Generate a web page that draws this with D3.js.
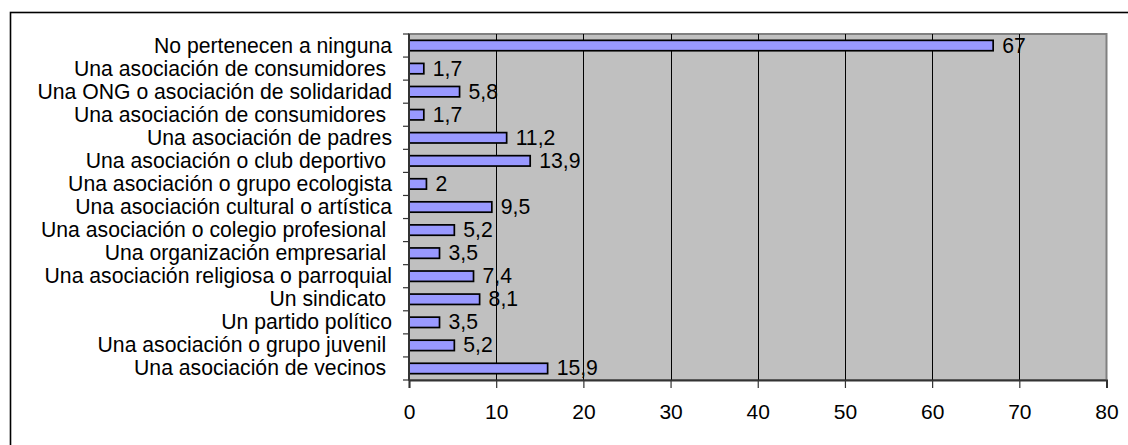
<!DOCTYPE html>
<html>
<head>
<meta charset="utf-8">
<script src="https://cdn.jsdelivr.net/npm/d3@7"></script>
<style>
  html, body { margin: 0; padding: 0; background: #fff; }
  svg { display: block; }
  text { font-family: "Liberation Sans", Arial, sans-serif; fill: #000; }
</style>
</head>
<body>
<svg id="chart" width="1128" height="445"></svg>
<script>
// Membership in associations (%), listed top to bottom
const categories = [
  "No pertenecen a ninguna",
  "Una asociación de consumidores ",
  "Una ONG o asociación de solidaridad",
  "Una asociación de consumidores ",
  "Una asociación de padres",
  "Una asociación o club deportivo ",
  "Una asociación o grupo ecologista",
  "Una asociación cultural o artística",
  "Una asociación o colegio profesional ",
  "Una organización empresarial ",
  "Una asociación religiosa o parroquial",
  "Un sindicato ",
  "Un partido político",
  "Una asociación o grupo juvenil ",
  "Una asociación de vecinos "
];
const values = [67, 1.7, 5.8, 1.7, 11.2, 13.9, 2, 9.5, 5.2, 3.5, 7.4, 8.1, 3.5, 5.2, 15.9];
const valueLabels = ["67", "1,7", "5,8", "1,7", "11,2", "13,9", "2", "9,5", "5,2", "3,5", "7,4", "8,1", "3,5", "5,2", "15,9"];
const xTicks = [0, 10, 20, 30, 40, 50, 60, 70, 80];

const svg = d3.select("#chart");
const plot = { left: 409, right: 1106.5, top: 34, bottom: 380 };
const fontSize = 21.2;

// Outer frame (only top and left edges fall inside the page)
svg.append("rect")
  .attr("x", 10.5).attr("y", 12.5)
  .attr("width", 1140).attr("height", 460)
  .attr("fill", "none").attr("stroke", "#000").attr("stroke-width", 1.6);

const x = d3.scaleLinear().domain([0, 80]).range([plot.left, plot.right]);
const y = d3.scaleBand().domain(d3.range(categories.length))
  .range([plot.top, plot.bottom]).paddingInner(0.55).paddingOuter(0.275);

// Plot background
svg.append("rect")
  .attr("x", plot.left).attr("y", plot.top)
  .attr("width", plot.right - plot.left).attr("height", plot.bottom - plot.top)
  .attr("fill", "#c0c0c0").attr("stroke", "#808080").attr("stroke-width", 2);

// Vertical gridlines
svg.append("g").selectAll("line")
  .data(xTicks.filter(t => t > 0 && t < 80))
  .join("line")
  .attr("x1", d => Math.round(x(d)) + 0.5).attr("x2", d => Math.round(x(d)) + 0.5)
  .attr("y1", plot.top).attr("y2", plot.bottom)
  .attr("stroke", "#000").attr("stroke-width", 1);

// Bars
svg.append("g").selectAll("rect")
  .data(values)
  .join("rect")
  .attr("x", x(0))
  .attr("y", (d, i) => y(i))
  .attr("width", d => x(d) - x(0))
  .attr("height", y.bandwidth())
  .attr("fill", "#9999ff")
  .attr("stroke", "#000")
  .attr("stroke-width", 1.7);

// Value labels
svg.append("g").selectAll("text")
  .data(values)
  .join("text")
  .attr("x", d => x(d) + 9)
  .attr("y", (d, i) => y(i) + y.bandwidth() / 2 + 7)
  .attr("font-size", fontSize)
  .text((d, i) => valueLabels[i]);

// X axis
const xAxis = svg.append("g")
  .attr("transform", `translate(0,${plot.bottom})`)
  .call(d3.axisBottom(x).tickValues(xTicks).tickSize(8).tickPadding(16).tickFormat(d3.format("d")));
xAxis.select(".domain").attr("stroke", "#333").attr("stroke-width", 2);
xAxis.selectAll(".tick line").attr("stroke", "#333").attr("stroke-width", 1.2);
xAxis.selectAll(".tick text")
  .attr("font-family", "Liberation Sans, Arial, sans-serif")
  .attr("font-size", 21).attr("fill", "#000");

// Y axis: line, ticks at band boundaries, category labels
const step = y.step();
const yBoundaries = d3.range(categories.length + 1).map(i => plot.top + i * step);
const yAxis = svg.append("g");
yAxis.append("line")
  .attr("x1", plot.left).attr("x2", plot.left)
  .attr("y1", plot.top).attr("y2", plot.bottom)
  .attr("stroke", "#333").attr("stroke-width", 2);
yAxis.selectAll("line.tk")
  .data(yBoundaries)
  .join("line").attr("class", "tk")
  .attr("x1", plot.left - 6).attr("x2", plot.left)
  .attr("y1", d => d).attr("y2", d => d)
  .attr("stroke", "#333").attr("stroke-width", 1.2);
yAxis.selectAll("text")
  .data(categories)
  .join("text")
  .attr("x", plot.left - 17)
  .attr("y", (d, i) => y(i) + y.bandwidth() / 2 + 7)
  .attr("text-anchor", "end")
  .attr("font-size", fontSize)
  .style("white-space", "pre")
  .text(d => d);
</script>
</body>
</html>
